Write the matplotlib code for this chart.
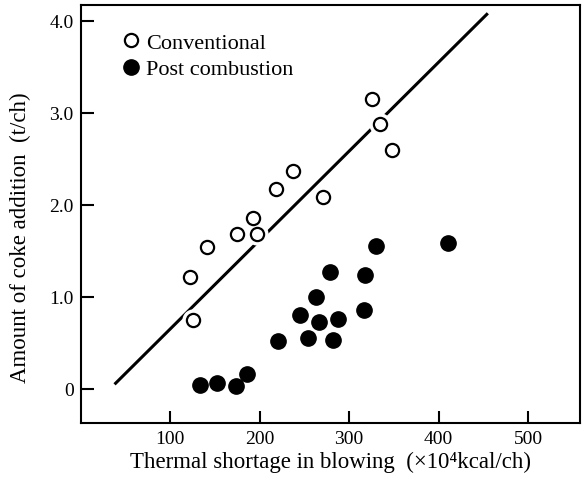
import matplotlib
matplotlib.use("Agg")
import matplotlib.pyplot as plt
import numpy as np

# Conventional operation (open circles)
conv_x = [122, 126, 141, 175, 193, 197, 218, 237, 271, 326, 335, 348]
conv_y = [1.22, 0.75, 1.54, 1.68, 1.86, 1.68, 2.17, 2.37, 2.09, 3.15, 2.88, 2.60]

# Post combustion (filled circles)
post_x = [134, 153, 174, 186, 221, 245, 254, 263, 266, 279, 282, 288, 317, 318, 330, 410]
post_y = [0.04, 0.06, 0.03, 0.16, 0.52, 0.80, 0.55, 1.00, 0.73, 1.27, 0.53, 0.76, 0.86, 1.24, 1.55, 1.58]

# regression line end points
line_x = [38, 455]
line_y = [0.05, 4.08]

xticks = [100, 200, 300, 400, 500]
yticks = [0, 1.0, 2.0, 3.0, 4.0]
ytick_labels = ["0", "1.0", "2.0", "3.0", "4.0"]

plt.rcParams['font.family'] = ['Liberation Serif', 'DejaVu Serif']

fig = plt.figure(figsize=(5.86, 4.85), dpi=100)
ax = fig.add_axes([0.1374, 0.1258, 0.8524, 0.8618])

ax.plot(line_x, line_y, color='black', lw=2.2, zorder=1, solid_capstyle='butt')

# white halo so the line breaks around the open circles
ax.plot(conv_x, conv_y, 'o', ms=15, mfc='white', mec='white', zorder=2)
ax.plot(conv_x, conv_y, 'o', ms=9.5, mfc='white', mec='black', mew=1.6, zorder=3,
        label='Conventional')
ax.plot(post_x, post_y, 'o', ms=11, mfc='black', mec='black', zorder=3,
        label='Post combustion')

ax.set_xlim(0, 558)
ax.set_ylim(-0.37, 4.17)
ax.set_xticks(xticks)
ax.set_xticklabels([str(v) for v in xticks])
ax.set_yticks(yticks)
ax.set_yticklabels(ytick_labels)

ax.tick_params(direction='in', length=9, width=1.5, labelsize=14, pad=5)
for s in ax.spines.values():
    s.set_linewidth(1.5)

ax.set_xlabel('Thermal shortage in blowing  (\u00d710\u2074kcal/ch)', fontsize=16.5, labelpad=3)
ax.set_ylabel('Amount of coke addition  (t/ch)', fontsize=16.5)
ax.yaxis.set_label_coords(-0.10, 0.445)

ax.legend(loc='upper left', bbox_to_anchor=(0.056, 0.955), borderaxespad=0,
          frameon=False, fontsize=16, handletextpad=0.1,
          labelspacing=0.25, handlelength=1.2)

plt.savefig("out.png", dpi=100)
